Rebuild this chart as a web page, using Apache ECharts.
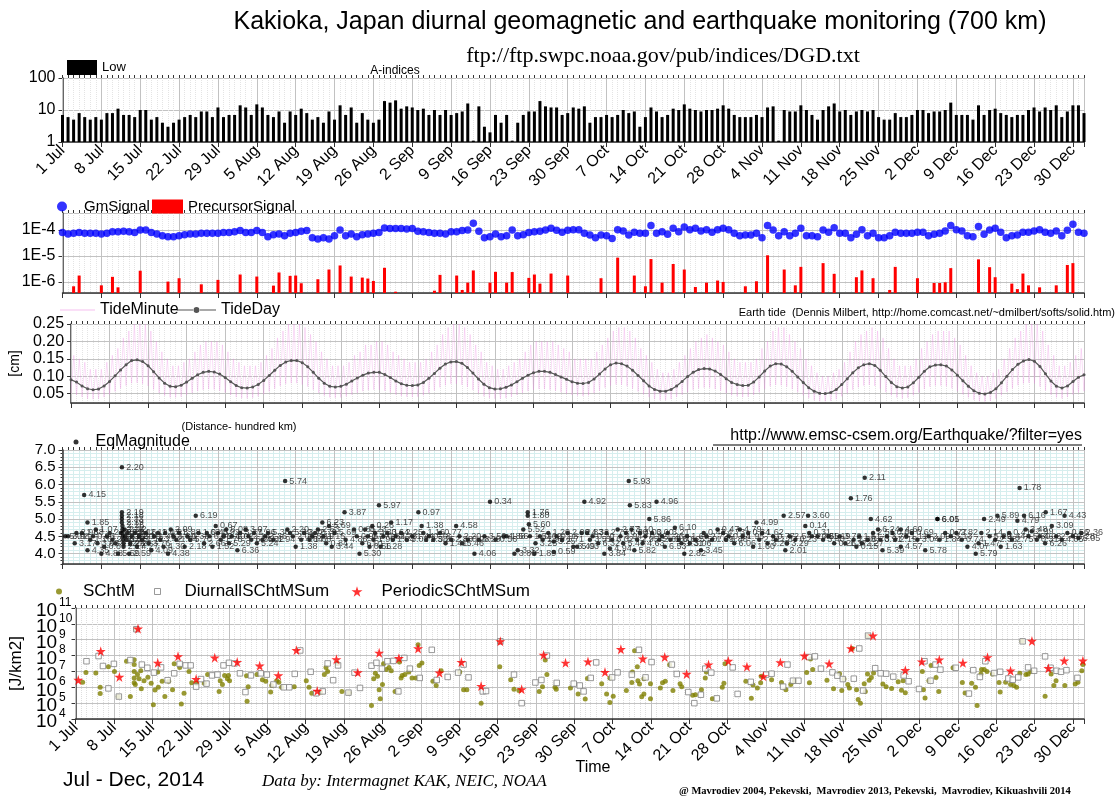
<!DOCTYPE html>
<html><head><meta charset="utf-8">
<script src="https://cdn.jsdelivr.net/npm/echarts@6/dist/echarts.min.js"></script>
<style>html,body{margin:0;padding:0;background:#fff}#c{width:1118px;height:798px}</style>
</head><body><div id="c"></div>
<script>
const tickLabels = ['1 Jul','8 Jul','15 Jul','22 Jul','29 Jul','5 Aug','12 Aug','19 Aug','26 Aug','2 Sep','9 Sep','16 Sep','23 Sep','30 Sep','7 Oct','14 Oct','21 Oct','28 Oct','4 Nov','11 Nov','18 Nov','25 Nov','2 Dec','9 Dec','16 Dec','23 Dec','30 Dec'];

const aIndex = [7,6,5,8,6,5,6,5,8,8, 11,7,7,6,10,10,5,6,4,3, 4,5,6,7,6,9,9,6,12,6, 7,7,14,12,7,15,12,7,6,9,
 4,9,7,11,8,5,6,4,9,5, 14,7,12,4,8,5,4,5,19,17, 20,11,13,12,10,11,7,10,7,10, 7,8,9,16,1.1,13,3,2,7,4, 7,1.1,4,7,9,9,19,13,
 12,12,7,8,12,11,13,4,6,6, 7,6,7,10,8,9,3,6,12,9, 6,7,11,10,15,11,10,9,10,10, 11,14,11,7,6,6,6,7,6,12,
 13,1.1,10,9,9,14,10,7,5,10, 13,16,9,10,7,9,10,9,10,6, 5,5,8,6,6,7,10,10,8,9, 9,10,17,7,7,7,5,14,7,10,
 11,8,7,6,7,7,10,12,9,12, 10,14,6,9,14,14,8];

const gmSignal = [8e-5,7e-5,7.5e-5,8e-5,7.5e-5,7.5e-5,7.5e-5,7e-5,7.5e-5,8.5e-5,
 8.5e-5,9e-5,8.5e-5,8e-5,10e-5,10e-5,8e-5,7e-5,6e-5,5.5e-5,
 5.5e-5,6e-5,6.5e-5,7e-5,7e-5,7.5e-5,7.5e-5,7.5e-5,7.5e-5,8e-5,
 8e-5,8.5e-5,9.5e-5,8e-5,8e-5,9.5e-5,8e-5,5.5e-5,6.5e-5,7e-5,
 6e-5,7.5e-5,8e-5,9e-5,9.5e-5,5e-5,4.5e-5,5e-5,4.5e-5,6e-5,
 10e-5,6e-5,7e-5,5.5e-5,6.5e-5,7e-5,7.5e-5,8e-5,12e-5,11.5e-5,
 11.5e-5,11.5e-5,11e-5,11.5e-5,9e-5,8.5e-5,8e-5,7.5e-5,7.5e-5,7e-5,
 8.5e-5,8.5e-5,9.5e-5,10e-5,18e-5,9e-5,5e-5,5.5e-5,7e-5,5.5e-5,
 6e-5,10e-5,6e-5,6.5e-5,8e-5,8.5e-5,9e-5,10e-5,
 11.6e-5,9.7e-5,8.1e-5,9.7e-5,10.3e-5,10.3e-5,7.4e-5,6.4e-5,5.0e-5,6.4e-5,
 6.0e-5,4.7e-5,10.3e-5,9.1e-5,6.4e-5,8.1e-5,7.4e-5,7.4e-5,14.7e-5,7.4e-5,
 8.6e-5,6.8e-5,11.6e-5,8.6e-5,13.1e-5,10.3e-5,11.6e-5,9.1e-5,10.3e-5,8.1e-5,
 10.3e-5,11.6e-5,10.3e-5,7.4e-5,6.0e-5,6.4e-5,6.4e-5,7.4e-5,5.0e-5,14.7e-5,
 10e-5,6.0e-5,8.6e-5,6.0e-5,7.4e-5,11.6e-5,6.0e-5,6.0e-5,5.5e-5,10e-5,
 8.1e-5,12.3e-5,7.4e-5,7.4e-5,5.0e-5,6.8e-5,10.3e-5,6.0e-5,7.4e-5,5.0e-5,
 5.0e-5,6.0e-5,8.1e-5,7.4e-5,7.4e-5,7.4e-5,8.1e-5,8.1e-5,6.0e-5,6.8e-5,
 7.4e-5,9.1e-5,14.7e-5,10.3e-5,9.1e-5,6.0e-5,5.5e-5,13.5e-5,6.8e-5,10e-5,
 11.6e-5,8.1e-5,5.0e-5,6.0e-5,6.4e-5,8.1e-5,8.1e-5,9.1e-5,10.3e-5,8.1e-5,
 7.4e-5,9.1e-5,6.0e-5,9.7e-5,16.6e-5,8.1e-5,7.4e-5];

const precursorDay = [2,3,7,9,10,14,19,21,25,28,32,35,38,39,41,42,43,46,48,50,52,54,55,56,58,60,67,68,71,72,73,74,77,78,80,81,84,85,86,88,91,97,100,103,105,106,108,110,112,114,116,118,119,123,125,127,130,132,133,137,139,143,144,146,149,150,154,157,158,159,160,165,167,168,171,172,173,174,176,179,181,182];
const precursorValue = [0.68e-6,1.76e-6,0.74e-6,1.57e-6,0.62e-6,2.7e-6,1.03e-6,1.39e-6,0.81e-6,1.2e-6,1.93e-6,1.61e-6,0.72e-6,2.31e-6,1.71e-6,1.76e-6,0.89e-6,1.27e-6,3.0e-6,4.3e-6,1.61e-6,1.47e-6,1.35e-6,1.09e-6,3.5e-6,0.42e-6,0.46e-6,1.87e-6,1.76e-6,0.49e-6,0.94e-6,2.77e-6,0.94e-6,2.45e-6,0.94e-6,2.4e-6,1.43e-6,1.93e-6,0.86e-6,2.1e-6,1.76e-6,1.39e-6,8.6e-6,1.76e-6,0.68e-6,7.6e-6,0.94e-6,4.9e-6,3.0e-6,0.64e-6,0.94e-6,1.13e-6,1.0e-6,0.68e-6,1.06e-6,10.6e-6,3.0e-6,0.74e-6,3.8e-6,5.3e-6,2.05e-6,1.52e-6,2.77e-6,1.39e-6,0.49e-6,3.8e-6,1.39e-6,0.91e-6,0.91e-6,0.97e-6,3.4e-6,7.4e-6,3.7e-6,1.52e-6,0.86e-6,0.53e-6,2.1e-6,0.74e-6,0.62e-6,0.74e-6,4.5e-6,5.3e-6];

const tideDay = [.090,.083,.072,.064,.061,.063,.072,.085,.101,.118, .133,.145,.147,.142,.130,.113,.095,.080,.071,.070,
 .074,.083,.094,.104,.111,.114,.112,.106,.096,.084, .073,.067,.066,.069,.076,.088,.102,.117,.131,.141,
 .145,.145,.139,.127,.111,.094,.080,.071,.069,.071, .077,.086,.095,.103,.109,.111,.111,.105,.096,.086,
 .078,.074,.073,.075,.082,.094,.108,.123,.135,.141, .142,.137,.125,.109,.092,.077,.067,.063,.064,.068,
 .075,.084,.094,.103,.110,.114,.114,.111,.105,.098, .091,.084,.080,.079,.082,.092,.106,.121,.133,.138,
 .136,.129,.117,.102,.087,.072,.062,.057,.057,.062, .072,.085,.099,.111,.119,.122,.121,.115,.105,.093,
 .082,.076,.073,.074,.083,.098,.115,.129,.136,.135, .127,.114,.098,.082,.067,.057,.051,.050,.053,.062,
 .076,.093,.110,.124,.133,.136,.131,.117,.099,.082, .070,.066,.069,.081,.097,.114,.127,.132,.133,.129,
 .118,.103,.087,.071,.058,.051,.049,.053,.064,.081, .100,.119,.134,.144,.148,.143,.128,.107,.086,.071,
 .066,.072,.085,.097,.104];
const tideMinuteHigh = [.16,.15,.14,.12,.12,.12,.14,.16,.18,.21, .23,.25,.26,.25,.23,.20,.17,.15,.13,.13,
 .14,.15,.17,.19,.20,.20,.20,.19,.17,.15, .14,.13,.13,.13,.14,.16,.18,.21,.23,.25,
 .25,.25,.24,.22,.20,.17,.15,.13,.13,.13, .14,.16,.17,.19,.19,.20,.20,.19,.17,.16,
 .15,.14,.14,.14,.15,.17,.19,.22,.24,.25, .25,.24,.22,.19,.17,.14,.13,.12,.12,.13,
 .14,.15,.17,.19,.20,.20,.20,.20,.19,.18, .17,.15,.15,.15,.15,.17,.19,.21,.23,.24,
 .24,.23,.21,.18,.16,.14,.12,.11,.11,.12, .14,.16,.18,.20,.21,.22,.21,.20,.19,.17,
 .15,.14,.14,.14,.15,.18,.20,.23,.24,.24, .22,.20,.18,.15,.13,.11,.10,.10,.11,.12,
 .14,.17,.20,.22,.23,.24,.23,.21,.18,.15, .13,.13,.13,.15,.18,.20,.22,.23,.23,.23,
 .21,.19,.16,.13,.11,.10,.10,.11,.12,.15, .18,.21,.23,.25,.26,.25,.23,.19,.16,.13,
 .13,.14,.16,.18,.19];
const tideMinuteLow = [.050,.046,.040,.035,.034,.035,.040,.047,.056,.065, .073,.080,.081,.078,.072,.062,.052,.044,.039,.039,
 .041,.046,.052,.057,.061,.063,.062,.058,.053,.046, .040,.037,.036,.038,.042,.048,.056,.064,.072,.078,
 .080,.080,.076,.070,.061,.052,.044,.039,.038,.039, .042,.047,.052,.057,.060,.061,.061,.058,.053,.047,
 .043,.041,.040,.041,.045,.052,.059,.068,.074,.078, .078,.075,.069,.060,.051,.042,.037,.035,.035,.037,
 .041,.046,.052,.057,.061,.063,.063,.061,.058,.054, .050,.046,.044,.043,.045,.051,.058,.067,.073,.076,
 .075,.071,.064,.056,.048,.040,.034,.031,.031,.034, .040,.047,.054,.061,.065,.067,.067,.063,.058,.051,
 .045,.042,.040,.041,.046,.054,.063,.071,.075,.074, .070,.063,.054,.045,.037,.031,.028,.028,.029,.034,
 .042,.051,.061,.068,.073,.075,.072,.064,.054,.045, .039,.036,.038,.045,.053,.063,.070,.073,.073,.071,
 .065,.057,.048,.039,.032,.028,.027,.029,.035,.045, .055,.065,.074,.079,.081,.079,.070,.059,.047,.039,
 .036,.040,.047,.053,.057];

const eqDay = [0.5,1.0,2.2,2.5,3.5,3.9,4.5,4.5,5.0,5.5,6.0,6.3,7.0,7.5,8.0,8.5,9.0,9.5,10.0,10.5,
 10.7,10.7,10.7,10.7,10.7,10.8,10.8,10.8,10.9,10.9,11.0,11.0,11.2,11.3,11.5,11.7,12.0,12.2,12.5,13.0,
 13.4,13.8,14.3,15.0,15.5,16.0,16.5,17.2,17.6,18.2,18.5,19.0,19.5,20.0,20.5,21.0,22.0,22.5,23.0,24.0,
 24.5,25.5,26.0,26.5,27.0,27.6,28.0,28.5,29.0,29.5,30.0,30.5,31.5,32.0,33.0,33.5,34.0,34.5,35.0,36.0,
 36.5,37.0,38.0,40.1,40.5,41.0,41.5,42.0,43.0,43.5,44.5,45.0,45.5,46.0,46.8,47.0,47.5,48.0,48.5,49.0,
 50.8,51.0,52.5,53.0,53.5,54.0,54.5,55.0,55.3,55.8,56.0,56.3,57.0,57.3,57.8,58.5,59.2,59.5,60.0,61.0,
 62.0,63.0,64.1,64.7,65.0,65.5,66.0,66.8,68.0,69.0,70.0,70.9,71.5,72.0,73.0,74.2,75.0,76.0,77.0,78.0,
 79.5,80.0,81.4,82.0,83.0,83.8,83.8,84.0,84.2,85.0,85.2,86.0,86.5,
 87.5,88.5,88.5,89.0,90.0,91.0,92.0,92.7,93.5,94.0,94.5,95.0,95.5,96.5,97.6,98.0,98.6,99.0,100.0,100.5,
 101.0,101.5,102.0,102.2,102.5,103.0,103.5,104.0,104.5,105.0,105.7,106.2,107.0,107.5,108.0,108.5,109.0,109.5,110.3,111.0,
 111.5,112.0,112.5,113.0,114.0,115.0,115.5,116.0,117.0,118.0,119.0,119.5,120.0,121.0,122.0,122.5,123.5,124.4,125.0,125.5,
 126.0,127.0,128.0,128.5,129.9,130.2,130.5,131.0,132.0,133.8,134.3,134.5,135.0,136.0,137.0,138.0,139.0,140.0,141.0,142.0,
 142.5,143.0,143.5,144.0,144.5,145.0,145.6,146.0,146.9,147.3,147.7,148.5,149.5,150.0,151.0,151.0,152.0,153.0,154.0,155.4,
 156.0,157.6,157.6,158.0,159.0,160.0,161.0,162.0,163.0,164.5,165.0,165.5,166.0,167.0,168.0,168.4,169.0,169.5,170.5,171.0,
 172.0,172.4,173.2,173.5,174.0,174.6,175.5,176.0,177.0,177.1,178.2,179.0,180.0,180.5,181.0,182.0,183.0,183.5];
const eqMag = [4.5,4.5,4.3,4.6,4.6,5.7,4.9,4.1,4.4,4.5,4.7,4.3,4.0,4.2,4.5,4.6,4.4,4.3,4.0,4.6,
 6.5,5.2,5.1,5.0,4.9,4.8,4.7,4.6,4.5,4.4,4.3,4.2,4.7,4.5,4.4,4.6,4.0,4.3,4.5,4.6,
 4.2,4.5,4.4,4.6,4.3,4.1,4.5,4.6,4.4,4.2,4.6,4.0,4.7,4.5,4.4,4.6,4.2,4.5,4.4,5.1,
 4.6,4.3,4.6,4.5,4.2,4.8,4.6,4.4,4.5,4.7,4.3,4.5,4.1,4.6,4.7,4.5,4.4,4.6,4.3,4.4,
 4.5,4.6,4.4,6.1,4.7,4.6,4.5,4.2,4.4,4.6,4.4,4.5,4.6,4.7,4.9,4.5,4.3,4.8,4.2,4.6,
 5.2,4.4,4.7,4.5,4.0,4.3,4.7,4.5,4.2,4.8,4.4,4.6,5.4,4.2,4.5,4.6,4.9,4.4,4.5,4.6,
 4.4,4.5,5.2,4.8,4.6,4.4,4.5,4.4,4.6,4.3,4.4,4.8,4.5,4.3,4.4,4.0,4.4,4.5,5.5,4.4,
 4.5,4.5,4.0,4.1,4.7,5.2,5.1,4.85,4.5,4.0,4.3,4.5,4.4,
 4.6,4.35,4.05,4.5,4.4,4.6,4.2,4.2,4.6,5.5,4.6,4.4,4.5,4.3,4.0,4.6,4.15,4.4,4.7,4.5,
 4.3,4.6,6.1,5.4,4.7,4.1,4.4,4.6,4.3,4.5,5.0,4.6,5.5,4.4,4.5,4.2,4.6,4.4,4.75,4.4,
 4.3,4.0,4.5,4.3,4.4,4.1,4.6,4.5,4.4,4.7,4.6,4.4,4.5,4.3,4.7,4.5,4.6,4.2,4.9,4.4,
 4.6,4.3,4.5,4.4,5.1,4.1,4.3,4.5,4.4,4.8,5.1,4.6,4.5,4.5,4.4,4.5,4.3,4.5,4.3,5.6,
 4.4,4.2,4.5,4.3,6.2,4.4,5.0,4.6,4.7,4.4,4.1,4.5,4.6,4.4,4.7,4.2,4.5,4.6,4.4,4.1,
 4.5,5.0,5.0,4.4,4.6,4.5,4.6,4.4,4.2,4.0,4.3,4.6,5.0,4.5,4.4,5.1,4.2,4.5,4.6,4.4,
 4.95,5.9,5.1,4.7,4.5,4.65,4.4,4.5,4.3,5.2,4.8,4.5,4.4,5.1,4.6,4.5,4.45,4.6];
const eqDist = [5.01,3.98,3.17,2.98,1.68,4.15,1.85,4.35,1.16,0.96,1.07,3.63,4.88,0.87,1.70,2.39,2.56,3.12,5.59,1.92,
 2.20,2.19,2.18,2.33,2.19,2.26,2.18,2.20,2.15,2.23,2.28,2.17,2.12,2.21,2.25,2.14,2.59,2.22,2.30,2.16,
 4.27,2.19,1.12,2.11,3.76,4.09,1.45,2.07,3.42,4.30,1.21,4.38,2.09,3.30,1.54,3.88,2.18,0.38,5.70,6.19,
 1.63,2.66,0.45,6.05,1.52,0.67,0.92,1.78,2.40,6.08,5.29,1.02,6.36,3.77,3.07,2.14,6.26,1.96,5.24,4.32,
 3.36,5.36,1.94,5.74,2.20,5.39,2.06,1.38,4.84,3.70,1.66,5.19,2.79,2.53,6.23,1.15,0.84,5.69,3.44,5.69,
 3.87,4.86,0.85,0.96,5.30,6.01,0.23,3.27,0.56,0.26,1.99,3.33,5.97,1.28,0.84,0.64,1.17,1.84,2.73,2.25,
 3.01,1.44,0.97,1.38,1.16,2.58,0.78,3.25,0.77,1.41,2.88,4.58,2.20,5.46,0.28,4.06,0.29,3.50,0.34,0.56,
 4.88,1.56,3.80,3.32,5.52,1.76,1.80,5.60,1.53,1.89,3.25,0.62,1.92,
 1.20,3.25,0.59,0.98,1.71,2.00,3.49,5.03,2.83,4.92,4.32,3.51,0.20,6.32,3.84,2.77,4.94,6.02,2.77,3.94,
 5.47,6.30,5.93,5.83,3.10,5.82,2.95,4.00,4.63,0.82,5.86,3.00,4.96,2.62,1.26,6.53,3.21,1.80,6.10,0.12,
 1.31,2.82,1.69,3.06,5.50,3.45,0.47,2.72,1.69,0.47,4.73,5.88,0.24,6.06,4.79,1.95,0.34,1.60,4.99,2.41,
 1.62,3.20,0.77,1.87,2.57,2.01,3.29,2.54,0.23,0.14,3.60,0.31,2.43,0.55,3.40,1.19,0.26,3.72,1.37,1.76,
 2.30,0.15,1.51,2.27,2.11,0.70,4.62,2.51,6.24,3.91,5.39,3.75,0.60,2.19,4.60,4.57,1.11,0.69,3.04,5.78,
 2.09,6.05,6.01,1.84,0.77,3.13,2.82,0.74,4.07,5.79,1.47,2.14,2.49,5.29,2.38,5.89,1.63,3.44,0.41,2.75,
 4.79,1.78,6.16,3.48,5.80,2.99,0.31,4.03,6.26,1.67,3.09,2.70,4.05,4.43,0.56,3.28,5.05,2.36];

const schtmDay = [1.3,1.9,3.7,4.5,4.5,6.0,7.1,7.8,9.3,10.0,10.7,10.7,10.7,10.7,10.7,10.9,11.0,11.3,11.6,11.9,12.0,12.5,13.2,13.8,14.2,14.5,15.0,15.1,15.8,16.3,
 17.0,17.7,18.0,19.0,19.3,19.8,20.7,21.2,22.1,23.5,24.1,26.2,26.4,26.8,27.2,27.7,27.9,28.1,31.2,31.3,31.5,33.1,34.1,34.7,35.6,35.8,36.7,37.1,37.6,39.9,
 42.1,42.6,43.1,44.7,45.4,45.7,46.0,47.8,48.6,49.9,54.0,54.4,54.7,55.1,55.4,55.6,56.0,56.2,56.7,57.2,57.6,58.3,59.1,59.4,59.6,60.1,60.8,61.4,62.1,62.5,
 62.7,63.2,65.2,65.8,66.7,70.1,70.8,71.4,74.0,77.4,77.4,79.4,80.0,80.9,84.6,85.2,85.7,86.0,87.5,87.7,
 90.3,91.7,93.0,93.4,96.0,96.9,97.5,97.5,98.1,100.5,101.5,101.6,102.0,102.5,102.6,102.9,103.3,103.7,103.7,104.9,104.9,106.7,107.1,107.6,108.4,109.0,110.3,110.6,112.6,113.1,
 114.2,114.9,115.1,116.2,118.0,118.3,118.5,122.3,123.3,123.6,124.4,125.0,125.1,127.0,128.8,129.6,130.5,131.2,133.4,133.9,134.1,134.5,137.1,138.3,139.4,139.8,140.2,140.9,141.2,141.7,
 142.5,142.8,143.2,143.9,144.1,144.5,144.6,144.8,145.2,145.6,147.3,147.9,148.9,150.1,150.7,151.0,151.4,154.5,154.7,155.0,155.7,156.1,157.0,157.5,160.1,161.8,162.3,163.5,164.2,164.5,
 165.2,165.3,165.8,166.3,167.3,168.5,168.7,169.7,170.6,171.2,171.7,172.3,172.7,173.4,173.8,174.3,176.9,178.0,178.5,178.9,180.5,182.4,182.9,183.6,183.8];
const schtmValue = [2.1e6,8.7e6,7.9e6,1.0e6,4.0e5,2.0e7,1.0e7,2.6e5,4.4e7,2.6e5,5.5e7,2.7e7,1.0e7,3.9e6,1.9e6,1.5e6,4.6e9,6.3e6,3.5e6,1.1e7,8.1e5,2.6e6,4.3e6,1.8e6,7.9e4,6.8e5,9.1e6,1.0e6,2.4e6,2.6e5,
 2.4e6,7.1e5,3.0e7,1.8e7,8.9e4,4.2e5,1.0e7,1.9e6,1.8e6,1.8e6,6.3e6,5.5e5,2.6e6,1.5e6,5.6e6,3.5e6,5.6e6,2.6e6,5.4e6,1.3e5,1.1e6,6.3e6,3.0e6,2.4e6,5.0e5,1.3e6,2.6e6,2.1e6,1.0e6,1.1e6,
 2.6e6,1.0e6,4.2e5,5.0e5,6.3e6,1.8e7,1.0e7,3.2e7,5.5e5,4.6e5,7.2e4,3.5e6,7.6e6,4.9e6,7.1e5,1.9e5,1.5e6,3.0e7,1.3e7,1.8e7,1.1e7,5.5e5,3.9e7,3.9e6,5.6e6,6.3e6,9.1e6,3.9e6,3.9e6,4.9e8,
 2.4e7,3.4e7,2.4e6,1.3e6,1.1e7,9.1e6,7.1e5,7.1e5,1.0e5,2.0e7,7.9e8,3.0e6,7.4e5,6.2e5,5.5e5,1.1e6,5.2e7,6.3e6,1.0e6,7.4e5,
 9.1e5,3.8e5,1.8e5,3.6e6,1.7e6,3.8e5,1.1e5,3.9e6,2.7e5,6.2e5,2.0e6,9.1e6,2.0e8,2.0e7,2.6e6,1.6e6,2.5e5,3.8e5,3.5e6,1.9e5,1.7e6,9.1e5,1.9e6,2.4e6,2.6e7,6.2e5,1.7e6,1.1e6,3.1e5,3.4e5,
 7.1e5,3.9e6,9.1e6,1.9e5,1.0e6,1.8e6,3.0e7,2.4e6,2.0e5,1.4e6,9.1e5,1.9e6,4.9e6,3.0e6,2.0e6,7.1e5,1.5e6,2.5e6,8.7e6,1.9e6,6.0e7,1.3e7,2.8e6,8.1e5,7.2e6,6.2e5,3.3e6,1.5e6,9.1e5,2.8e8,
 7.1e5,1.7e5,9.8e4,1.7e6,5.5e5,6.9e6,1.8e9,2.8e6,4.1e6,7.9e6,1.6e6,1.1e6,8.5e5,2.2e6,6.5e5,2.6e6,4.6e5,1.0e7,7.1e5,2.1e5,2.6e6,2.4e7,4.1e6,5.5e5,1.7e7,2.0e6,4.4e5,1.8e6,1.0e6,7.2e4,
 6.9e6,1.3e7,1.3e7,1.0e7,6.9e6,2.0e6,5.0e5,2.1e6,1.5e6,1.3e6,1.0e6,7.6e6,7.9e8,6.3e6,6.9e6,1.0e7,2.7e5,6.9e6,1.3e6,2.6e6,1.3e6,1.6e6,2.1e6,1.1e7,2.7e7];

const diurnalDay = [2.0,4.2,5.0,6.0,7.0,7.9,10.0,11.1,12.1,13.1,14.3,15.6,16.8,18.0,19.0,20.1,21.0,22.0,22.9,23.9,24.9,25.9,27.0,28.0,29.0,30.0,31.0,32.0,33.8,34.9,
 36.1,38.0,39.0,40.0,41.0,42.9,43.9,45.1,46.0,47.0,47.9,49.8,50.9,51.9,54.0,54.9,55.9,56.9,58.0,58.9,60.0,61.0,62.8,65.0,65.9,67.9,69.8,70.8,71.7,74.3,
 74.9,77.5,80.0,81.4,83.9,85.0,86.0,87.8,
 90.9,92.0,92.7,94.0,95.0,97.9,98.9,101.5,102.8,104.0,105.1,108.8,109.7,111.8,112.9,114.1,114.9,116.0,117.0,119.9,120.8,123.2,126.0,127.0,129.1,129.9,130.9,131.9,133.8,134.9,
 136.0,138.1,139.0,140.0,142.0,143.0,143.7,144.6,145.9,146.9,147.9,149.2,151.1,152.0,153.9,154.9,156.0,156.9,157.8,160.6,163.0,163.8,165.0,166.0,167.6,168.7,170.2,171.0,172.0,172.8,
 173.8,174.9,176.9,177.9,179.0,179.8,180.8,182.8];
const diurnalValue = [4.4e7,9.3e7,2.2e7,8.5e5,3.0e7,2.6e5,5.2e7,4.6e9,2.7e7,1.7e7,8.4e6,1.8e7,2.8e6,7.6e6,3.0e7,2.4e7,2.4e7,1.1e6,3.3e6,1.7e6,5.6e6,6.3e6,2.4e7,3.5e7,3.2e7,7.6e6,5.0e5,5.6e6,7.6e6,6.3e6,
 1.5e6,1.0e6,1.0e6,7.0e6,2.1e8,9.5e6,4.2e5,5.5e5,3.2e7,2.8e6,2.4e7,4.6e5,8.4e6,9.1e5,2.3e7,3.5e7,1.5e7,4.4e7,4.6e7,5.5e5,7.1e7,1.5e7,3.9e6,2.3e8,2.9e6,4.5e6,8.4e6,2.7e7,4.2e6,5.5e5,
 5.8e5,7.9e8,6.3e6,1.0e5,2.0e6,2.9e6,1.0e8,1.9e6,
 1.7e6,1.3e6,5.5e5,3.9e6,3.7e7,4.2e6,8.7e6,6.3e6,2.3e8,4.2e6,3.9e7,2.7e7,6.9e6,5.0e5,1.0e5,3.4e5,1.5e7,8.4e6,2.0e5,1.8e7,3.8e5,2.2e6,6.3e6,7.2e6,1.1e6,2.7e7,2.6e6,2.6e6,8.1e7,8.9e7,
 1.5e7,8.7e6,5.4e6,3.3e6,3.5e6,2.8e8,6.2e5,1.8e9,1.6e7,7.6e6,7.2e6,4.7e6,5.6e6,2.4e6,7.8e5,4.4e7,2.6e6,2.7e7,1.3e7,1.7e7,4.0e5,1.2e7,4.5e6,4.4e7,7.9e6,9.5e6,3.6e6,3.0e6,4.2e6,7.9e8,
 1.8e7,1.1e7,8.9e7,1.7e7,1.1e7,9.5e6,1.2e7,3.9e6];

const periodicDay = [0.5,4.6,8.0,11.4,15.0,18.7,22.0,25.4,29.5,33.6,37.0,40.3,44.1,47.6,51.5,55.4,59.0,62.5,66.4,70.4,74.0,77.5,81.4,85.4,89.4,
 93.5,96.6,99.5,103.5,107.5,111.5,115.5,119.1,122.5,125.5,128.6,133.0,137.5,141.5,145.5,151.4,154.4,157.6,161.9,166.4,170.6,174.5,177.5,180.4,183.8];
const periodicValue = [2.9e6,1.9e8,4.5e6,5.0e9,3.5e7,8.9e7,3.3e6,7.4e7,3.9e7,2.3e7,5.6e6,2.2e8,5.9e5,5.8e7,8.7e6,1.5e8,6.8e7,2.8e8,8.3e6,3.9e7,1.2e6,7.9e8,7.4e5,1.1e8,3.5e7,
 4.2e7,9.1e6,2.5e8,6.3e7,8.1e7,6.9e6,2.7e7,4.6e7,2.0e7,4.9e6,3.7e7,9.8e7,3.1e7,2.8e8,1.8e9,1.2e7,4.2e7,5.5e7,3.5e7,7.8e7,1.1e7,8.3e8,1.6e7,4.8e7,4.8e7];

const SANS = 'Liberation Sans, Arial, sans-serif';
const SERIF = 'Liberation Serif, Times New Roman, serif';
const STAR = 'path://M50,0 L61,35 L98,35 L68,57 L79,91 L50,70 L21,91 L32,57 L2,35 L39,35 Z';
const SQUARE = 'path://M0,0 L10,0 L10,10 L0,10 Z';
const PINK_LINE = 'path://M0,0 L40,0 L40,1 L0,1 Z';
const DOT_LINE = 'path://M0,4.6 L16.5,4.6 L16.5,5.4 L0,5.4 Z M23.5,4.6 L40,4.6 L40,5.4 L23.5,5.4 Z M17,5 A3,3 0 1,1 23,5 A3,3 0 1,1 17,5 Z';
const AX = '#333';
const PINK = 'rgba(236,130,225,0.38)';

const grids = [
  {left: 62.5, right: 34, top: 78, height: 64},
  {left: 62.5, right: 34, top: 213, height: 80},
  {left: 62.5, right: 34, top: 324, height: 79},
  {left: 62.5, right: 34, top: 450, height: 114},
  {left: 62.5, right: 34, top: 608, height: 111}
];

function xPair(g, showLabels, minorColor, minorType) {
  return [
    {type: 'value', gridIndex: g, min: 0, max: 184, interval: 7, z: 1,
     axisLine: {show: true, onZero: false, lineStyle: {color: AX, width: 1.5}},
     axisTick: {show: true, length: 5, lineStyle: {color: AX}},
     axisLabel: {show: showLabels, rotate: 45, fontSize: 16, color: '#000', margin: 6, fontFamily: SANS,
       formatter: v => (v % 7 === 0 && v / 7 < tickLabels.length) ? tickLabels[v / 7] : ''},
     splitLine: {show: true, lineStyle: {color: '#c2c2c2', width: 1}}},
    {type: 'value', gridIndex: g, min: 0, max: 184, interval: 1, z: 0,
     axisLine: {show: false}, axisTick: {show: true, length: 3, lineStyle: {color: AX}},
     axisLabel: {show: false},
     splitLine: {show: true, lineStyle: {color: minorColor, type: minorType, width: 1}}}
  ];
}
const xAxes = [].concat(
  xPair(0, true, '#e4e4e4', 'dotted'),
  xPair(1, false, '#e4e4e4', 'dotted'),
  xPair(2, false, '#e4e4e4', 'dotted'),
  xPair(3, false, '#d6eeee', 'solid'),
  xPair(4, true, '#dedede', 'dotted')
);

const yBase = {position: 'left', axisLine: {show: true, lineStyle: {color: AX, width: 1.5}},
  axisTick: {show: true, length: 4, lineStyle: {color: AX}},
  splitLine: {show: true, lineStyle: {color: '#c2c2c2'}}};

const expOf = v => Math.round(Math.log10(v));
const baseLabel = {color: '#000', margin: 18.5, fontSize: 19, lineHeight: 6, verticalAlign: 'top', fontFamily: SANS,
  showMinLabel: true, showMaxLabel: true};
const labelOnlyAxis = {type: 'log', logBase: 10, gridIndex: 4, position: 'left', offset: 0, min: 1e4, max: 1e11, z: 2,
  axisLine: {show: false}, axisTick: {show: false}, splitLine: {show: false}};

const yAxes = [
  Object.assign({}, yBase, {type: 'log', logBase: 10, gridIndex: 0, min: 1, max: 100,
    axisLabel: {fontSize: 16, color: '#000', margin: 7, showMinLabel: true, showMaxLabel: true, formatter: v => String(Math.round(v))}}),
  Object.assign({}, yBase, {type: 'log', logBase: 10, gridIndex: 1, min: 3.75e-7, max: 4.5e-4,
    axisLabel: {fontSize: 16, color: '#000', margin: 7, showMinLabel: false, showMaxLabel: false,
      formatter: v => { const e = Math.log10(v), r = Math.round(e); return Math.abs(e - r) < 0.02 ? '1E' + r : ''; }}}),
  Object.assign({}, yBase, {type: 'value', gridIndex: 2, min: 0.023, max: 0.25, splitNumber: 5,
    name: '[cm]', nameLocation: 'middle', nameGap: 44, nameRotate: 90, nameTextStyle: {fontSize: 14, color: '#000'},
    axisLabel: {fontSize: 16, color: '#000', margin: 7, showMinLabel: false, showMaxLabel: true, formatter: v => v.toFixed(2)}}),
  Object.assign({}, yBase, {type: 'value', gridIndex: 3, min: 3.7, max: 7.0, splitNumber: 6, z: 1,
    axisLabel: {fontSize: 15, color: '#000', margin: 7, showMinLabel: false, showMaxLabel: true, formatter: v => v.toFixed(1)}}),
  // panel 5 main axis: base "10" for odd powers
  Object.assign({}, yBase, {type: 'log', logBase: 10, gridIndex: 4, min: 1e4, max: 1e11,
    name: '[J/km2]', nameLocation: 'middle', nameGap: 44, nameRotate: 90, nameTextStyle: {fontSize: 17, color: '#000'},
    axisLabel: Object.assign({}, baseLabel, {formatter: v => (expOf(v) % 2 === 1 ? '10' : '')})}),
  {type: 'value', gridIndex: 3, position: 'left', min: 3.7, max: 7.0, interval: 0.1, z: 0,
   axisLine: {show: false}, axisTick: {show: true, length: 2, lineStyle: {color: AX}}, axisLabel: {show: false},
   splitLine: {show: true, lineStyle: {color: '#d6eeee'}}},
  // panel 5 exponent labels (superscripts)
  Object.assign({}, labelOnlyAxis, {axisLabel: {color: '#000', margin: 16.5, fontSize: 12, lineHeight: 11, verticalAlign: 'bottom', align: 'left',
     showMinLabel: true, showMaxLabel: true, fontFamily: SANS, formatter: v => String(expOf(v))}}),
  // panel 5 base "10" for even powers
  Object.assign({}, labelOnlyAxis, {axisLabel: Object.assign({}, baseLabel, {formatter: v => (expOf(v) % 2 === 0 ? '10' : '')})})
];

const tideMinuteData = [];
tideMinuteHigh.forEach((h, i) => { tideMinuteData.push([i, tideMinuteLow[i]]); tideMinuteData.push([i + 0.5, h]); });

const series = [
  {name: 'Low', type: 'bar', xAxisIndex: 0, yAxisIndex: 0, barWidth: 3, itemStyle: {color: '#000'},
   data: aIndex.map((v, i) => [i, v])},
  {name: 'GmSignal', type: 'scatter', xAxisIndex: 2, yAxisIndex: 1, symbolSize: 7.5, itemStyle: {color: '#0000ff'},
   data: gmSignal.map((v, i) => [i, v])},
  {name: 'PrecursorSignal', type: 'custom', coordinateSystem: 'cartesian2d', xAxisIndex: 2, yAxisIndex: 1,
   itemStyle: {color: '#ff0000'},
   data: precursorDay.map((d, i) => [d, precursorValue[i]]),
   encode: {x: 0, y: 1},
   renderItem: (params, api) => {
     const top = api.coord([api.value(0), api.value(1)]);
     const bottom = params.coordSys.y + params.coordSys.height;
     return {type: 'rect', shape: {x: top[0] - 1.5, y: top[1], width: 3, height: bottom - top[1]}, style: {fill: '#ff0000'}};
   }},
  {name: 'TideMinute', type: 'line', xAxisIndex: 4, yAxisIndex: 2, showSymbol: false, symbol: 'none',
   lineStyle: {color: PINK, width: 0.7}, itemStyle: {color: PINK},
   data: tideMinuteData},
  {name: 'TideDay', type: 'line', xAxisIndex: 4, yAxisIndex: 2, symbol: 'circle', symbolSize: 3,
   lineStyle: {color: '#555', width: 1.2}, itemStyle: {color: '#555'},
   data: tideDay.map((v, i) => [i, v])},
  {name: 'EqMagnitude', type: 'scatter', xAxisIndex: 6, yAxisIndex: 3, symbolSize: 4.5, itemStyle: {color: '#000'},
   label: {show: true, position: 'right', distance: 2, fontSize: 9, color: '#222', fontFamily: SANS,
     formatter: p => p.value[2].toFixed(2)},
   data: eqDay.map((d, i) => [d, eqMag[i], eqDist[i]])},
  {name: 'SChtM', type: 'scatter', xAxisIndex: 8, yAxisIndex: 4, symbolSize: 5, itemStyle: {color: '#7f7f00'},
   data: schtmDay.map((d, i) => [d, schtmValue[i]])},
  {name: 'DiurnallSChtMSum', type: 'scatter', xAxisIndex: 8, yAxisIndex: 4, symbol: 'rect', symbolSize: 5.5,
   itemStyle: {color: '#ffffff', borderColor: '#808080', borderWidth: 1},
   data: diurnalDay.map((d, i) => [d, diurnalValue[i]])},
  {name: 'PeriodicSChtMSum', type: 'scatter', xAxisIndex: 8, yAxisIndex: 4, symbol: STAR, symbolSize: 10,
   itemStyle: {color: '#ff0000'}, z: 5,
   data: periodicDay.map((d, i) => [d, periodicValue[i]])}
];

const lg = (item, left, top, w, h, fs, padL) => ({data: [item], left, top, padding: 0,
  itemWidth: w, itemHeight: h, selectedMode: false,
  textStyle: {fontSize: fs, color: '#000', fontFamily: SANS, padding: [0, 0, 0, padL || 0]}});

const legends = [
  lg({name: 'Low', icon: 'rect'}, 67, 60, 30, 15, 13, 0),
  lg({name: 'GmSignal', icon: 'circle'}, 57, 199, 10, 10, 15, 12),
  lg({name: 'PrecursorSignal', icon: 'rect'}, 152, 199, 31, 14, 15, 0),
  lg({name: 'TideMinute', icon: PINK_LINE, itemStyle: {color: 'rgba(236,130,225,0.5)'}}, 60, 302, 35, 12, 16, 0),
  lg({name: 'TideDay', icon: DOT_LINE, itemStyle: {color: '#555'}}, 177, 302, 39, 12, 16, 0),
  lg({name: 'EqMagnitude', icon: 'circle'}, 73.5, 434, 5, 5, 16, 12),
  lg({name: 'SChtM', icon: 'circle'}, 56, 583, 6, 6, 17, 16),
  lg({name: 'DiurnallSChtMSum', icon: SQUARE, itemStyle: {color: '#ffffff', borderColor: '#808080', borderWidth: 1}}, 154, 583, 6, 6, 17, 19),
  lg({name: 'PeriodicSChtMSum', icon: STAR}, 351.5, 583, 11, 11, 17, 14)
];

const T = (x, y, text, o) => ({type: 'text', x, y, silent: true,
  style: Object.assign({text, fill: '#000', fontFamily: SANS, fontSize: 12, align: 'left', verticalAlign: 'middle'}, o || {})});

const graphics = [
  T(640, 22, 'Kakioka, Japan diurnal geomagnetic and earthquake monitoring (700 km)', {fontSize: 25, align: 'center'}),
  T(663, 56, 'ftp://ftp.swpc.noaa.gov/pub/indices/DGD.txt', {fontSize: 22, fontFamily: SERIF, align: 'center'}),
  T(395, 71, 'A-indices', {fontSize: 12, align: 'center'}),
  T(1115, 313, 'Earth tide  (Dennis Milbert, http://home.comcast.net/~dmilbert/softs/solid.htm)', {fontSize: 11, align: 'right'}),
  T(239, 427, '(Distance- hundred km)', {fontSize: 11, align: 'center'}),
  T(1082, 436, 'http://www.emsc-csem.org/Earthquake/?filter=yes', {fontSize: 16, align: 'right'}),
  {type: 'line', silent: true, shape: {x1: 713, y1: 445, x2: 1082, y2: 445}, style: {stroke: '#000', lineWidth: 1}},
  T(593, 768, 'Time', {fontSize: 16, align: 'center'}),
  T(63, 780, 'Jul - Dec, 2014', {fontSize: 21}),
  T(262, 782, 'Data by: Intermagnet KAK, NEIC, NOAA', {fontSize: 17, fontFamily: SERIF, fontStyle: 'italic'}),
  T(679, 791, '@ Mavrodiev 2004, Pekevski,  Mavrodiev 2013, Pekevski,  Mavrodiev, Kikuashvili 2014', {fontSize: 10.5, fontFamily: SERIF, fontWeight: 'bold'})
];

const chart = echarts.init(document.getElementById('c'), null, {renderer: 'canvas'});
chart.setOption({
  animation: false,
  backgroundColor: '#ffffff',
  textStyle: {fontFamily: SANS},
  grid: grids,
  xAxis: xAxes,
  yAxis: yAxes,
  legend: legends,
  series: series,
  graphic: graphics
});
</script></body></html>
